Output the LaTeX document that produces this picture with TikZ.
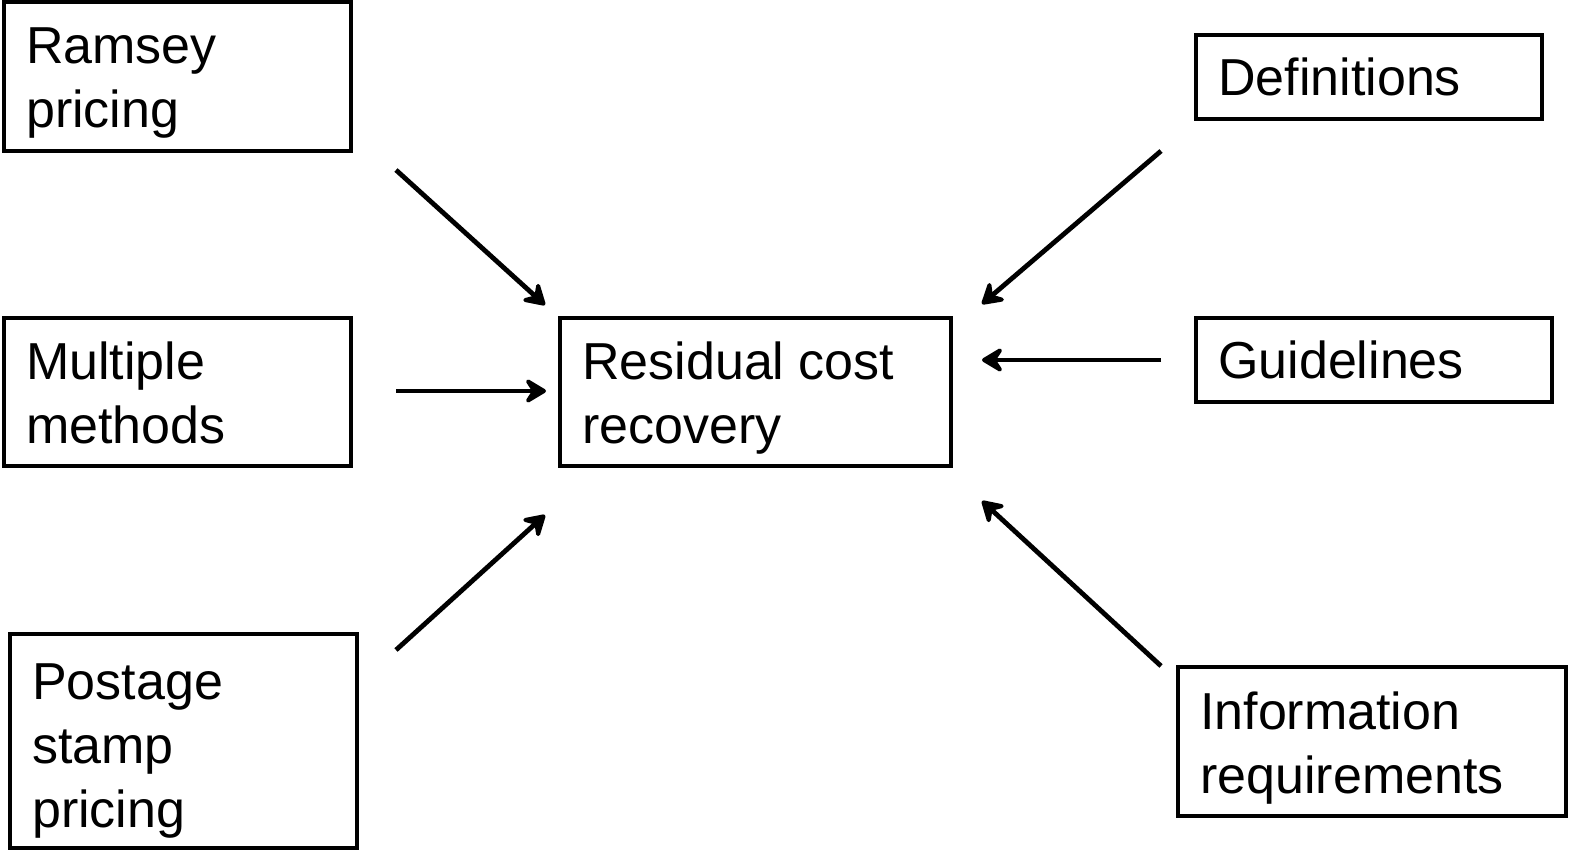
\documentclass[tikz,border=0pt]{standalone}
\usepackage{fontspec}
\setmainfont{Liberation Sans}
\usetikzlibrary{arrows.meta}
\begin{document}
\begin{tikzpicture}[x=1bp,y=-1bp,
  box/.style={draw, line width=4.3bp, rectangle, inner sep=0pt},
  txt/.style={inner sep=0pt, anchor=north west, align=left,
    font=\fontsize{52bp}{64bp}\selectfont},
  arr/.style={line width=4.8bp, -{Stealth[length=26bp,width=31bp,inset=10bp,round]}}]
\useasboundingbox (0,0) rectangle (1580,857);
% boxes
\node[box, minimum width=347bp, minimum height=149bp] (ramsey) at (177.5,76.5) {};
\node[box, minimum width=347bp, minimum height=148bp] (multiple) at (177.5,392) {};
\node[box, minimum width=347bp, minimum height=214bp] (postage) at (183.5,741) {};
\node[box, minimum width=391bp, minimum height=148bp] (residual) at (755.5,392) {};
\node[box, minimum width=346bp, minimum height=84bp] (definitions) at (1369,77) {};
\node[box, minimum width=356bp, minimum height=84bp] (guidelines) at (1374,360) {};
\node[box, minimum width=388bp, minimum height=149bp] (information) at (1372,741.5) {};
% texts
\node[txt] (ramseyT) at (26,28) {Ramsey\\pricing};
\node[txt] (multipleT) at (26,342) {Multiple\\methods};
\node[txt] (postageT) at (32,664) {Postage\\stamp\\pricing};
\node[txt] (residualT) at (582,342) {Residual cost\\recovery};
\node[txt] (definitionsT) at (1218,58) {Definitions};
\node[txt] (guidelinesT) at (1218,341) {Guidelines};
\node[txt] (informationT) at (1200,692) {Information\\requirements};
% arrows
\coordinate (a1s) at (396,170); \coordinate (a1e) at (545,305);
\coordinate (a2s) at (396,391); \coordinate (a2e) at (546,391);
\coordinate (a3s) at (396,650); \coordinate (a3e) at (545,515);
\coordinate (b1s) at (1161,151); \coordinate (b1e) at (982,304);
\coordinate (b2s) at (1161,360); \coordinate (b2e) at (982,360);
\coordinate (b3s) at (1161,666); \coordinate (b3e) at (982,501);
\draw[arr] (a1s) -- (a1e);
\draw[arr] (a2s) -- (a2e);
\draw[arr] (a3s) -- (a3e);
\draw[arr] (b1s) -- (b1e);
\draw[arr] (b2s) -- (b2e);
\draw[arr] (b3s) -- (b3e);
\end{tikzpicture}
\end{document}
